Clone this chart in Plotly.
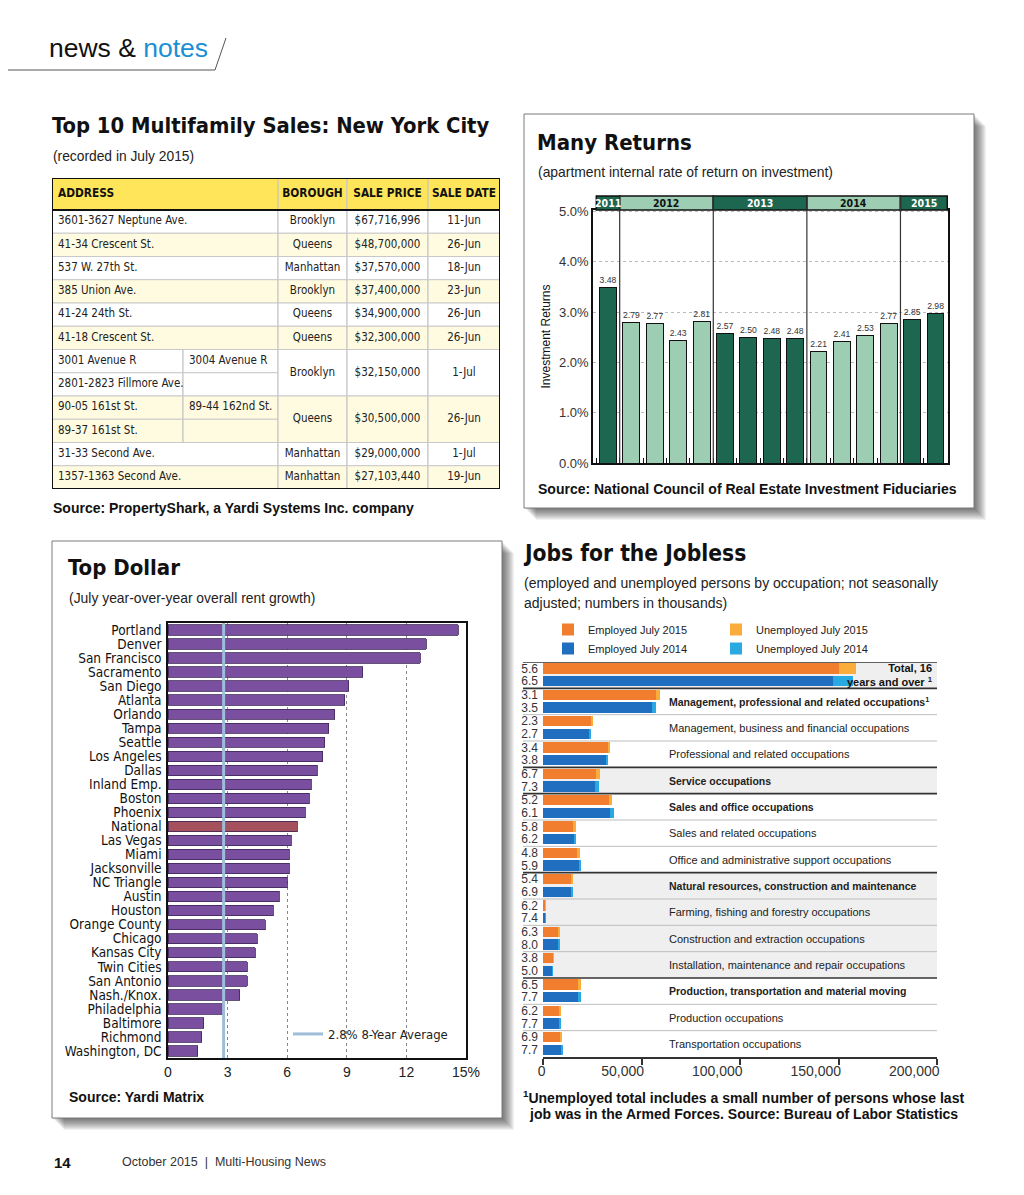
import plotly.graph_objects as go

PAGE_W, PAGE_H = 1024, 1195
BODY = 8                      # default page margin around the figure
W, H = PAGE_W - 2 * BODY, PAGE_H - 2 * BODY


def X(p):
    return (p - BODY) / W


def Y(p):
    return 1 - (p - BODY) / H


COND = "DejaVu Sans Condensed, Liberation Sans Narrow, Arial Narrow, sans-serif"
SANS = "Liberation Sans, Arial, Helvetica, sans-serif"

# ---------------- Data: Top 10 Multifamily Sales ----------------
tbl_header = ["ADDRESS", "BOROUGH", "SALE PRICE", "SALE DATE"]
tbl_address = [
    ["3601-3627 Neptune Ave."],
    ["41-34 Crescent St."],
    ["537 W. 27th St."],
    ["385 Union Ave."],
    ["41-24 24th St."],
    ["41-18 Crescent St."],
    ["3001 Avenue R", "3004 Avenue R", "2801-2823 Fillmore Ave."],
    ["90-05 161st St.", "89-44 162nd St.", "89-37 161st St."],
    ["31-33 Second Ave."],
    ["1357-1363 Second Ave."],
]
tbl_borough = ["Brooklyn", "Queens", "Manhattan", "Brooklyn", "Queens", "Queens",
               "Brooklyn", "Queens", "Manhattan", "Manhattan"]
tbl_price = ["$67,716,996", "$48,700,000", "$37,570,000", "$37,400,000", "$34,900,000",
             "$32,300,000", "$32,150,000", "$30,500,000", "$29,000,000", "$27,103,440"]
tbl_date = ["11-Jun", "26-Jun", "18-Jun", "23-Jun", "26-Jun", "26-Jun", "1-Jul",
            "26-Jun", "1-Jul", "19-Jun"]

# ---------------- Data: Many Returns ----------------
mr_quarters = ["4Q11", "1Q12", "2Q12", "3Q12", "4Q12", "1Q13", "2Q13", "3Q13", "4Q13",
               "1Q14", "2Q14", "3Q14", "4Q14", "1Q15", "2Q15"]
mr_values = [3.48, 2.79, 2.77, 2.43, 2.81, 2.57, 2.50, 2.48, 2.48, 2.21, 2.41, 2.53,
             2.77, 2.85, 2.98]
mr_years = ["2011", "2012", "2013", "2014", "2015"]
mr_ticks = [0, 1, 2, 3, 4, 5]

# ---------------- Data: Top Dollar ----------------
td_metros = ["Portland", "Denver", "San Francisco", "Sacramento", "San Diego", "Atlanta",
             "Orlando", "Tampa", "Seattle", "Los Angeles", "Dallas", "Inland Emp.",
             "Boston", "Phoenix", "National", "Las Vegas", "Miami", "Jacksonville",
             "NC Triangle", "Austin", "Houston", "Orange County", "Chicago",
             "Kansas City", "Twin Cities", "San Antonio", "Nash./Knox.", "Philadelphia",
             "Baltimore", "Richmond", "Washington, DC"]
td_growth = [14.6, 13.0, 12.7, 9.8, 9.1, 8.9, 8.4, 8.1, 7.9, 7.8, 7.5, 7.2, 7.1, 6.9,
             6.5, 6.2, 6.1, 6.1, 6.0, 5.6, 5.3, 4.9, 4.5, 4.4, 4.0, 4.0, 3.6, 2.8,
             1.8, 1.7, 1.5]
td_average = 2.8
td_ticks = [0, 3, 6, 9, 12, 15]
td_ticktext = ["0", "3", "6", "9", "12", "15%"]

# ---------------- Data: Jobs for the Jobless (thousands) ----------------
job_cats = ["Total, 16 years and over",
            "Management, professional and related occupations",
            "Management, business and financial occupations",
            "Professional and related occupations",
            "Service occupations",
            "Sales and office occupations",
            "Sales and related occupations",
            "Office and administrative support occupations",
            "Natural resources, construction and maintenance",
            "Farming, fishing and forestry occupations",
            "Construction and extraction occupations",
            "Installation, maintenance and repair occupations",
            "Production, transportation and material moving",
            "Production occupations",
            "Transportation occupations"]
job_major = [True, True, False, False, True, True, False, False, True, False, False,
             False, True, False, False]
job_emp_2015 = [150100, 57600, 24600, 33000, 27000, 33400, 15700, 17700, 14300, 1100,
                8000, 5100, 17900, 8600, 9100]
job_unemp_2015 = [8900, 1850, 580, 1160, 1940, 1830, 970, 890, 810, 73, 540, 200,
                  1250, 570, 680]
job_emp_2014 = [147300, 55400, 23700, 31900, 26500, 33800, 15700, 18200, 14300, 1150,
                8100, 4800, 17800, 8500, 9400]
job_unemp_2014 = [10200, 2000, 660, 1260, 2090, 2190, 1040, 1140, 1060, 92, 700, 260,
                  1490, 720, 780]
job_rate_2015 = ["5.6", "3.1", "2.3", "3.4", "6.7", "5.2", "5.8", "4.8", "5.4", "6.2",
                 "6.3", "3.8", "6.5", "6.2", "6.9"]
job_rate_2014 = ["6.5", "3.5", "2.7", "3.8", "7.3", "6.1", "6.2", "5.9", "6.9", "7.4",
                 "8.0", "5.0", "7.7", "7.7", "7.7"]
job_ticks = [0, 50000, 100000, 150000, 200000]

fig = go.Figure()
shapes = []
annotations = []


def ann(text, x, y, size, family=SANS, color="#1a1a1a", xanchor="left", **kw):
    d = dict(text=text, x=X(x), y=Y(y), xref="paper", yref="paper", showarrow=False,
             xanchor=xanchor, yanchor="middle", font=dict(size=size, family=family, color=color))
    d.update(kw)
    annotations.append(d)


def box_with_shadow(x0, y0, x1, y1):
    for k in range(12, 0, -1):
        shapes.append(dict(type="rect", xref="paper", yref="paper", layer="below",
                           x0=X(x0 + k), x1=X(x1 + k), y0=Y(y1 + k), y1=Y(y0 + k),
                           fillcolor="rgba(0,0,0,0.055)", line=dict(width=0)))
    shapes.append(dict(type="rect", xref="paper", yref="paper", layer="below",
                       x0=X(x0), x1=X(x1), y0=Y(y1), y1=Y(y0),
                       fillcolor="white", line=dict(color="#7a7a7a", width=1)))


# ---------------- Page header / footer ----------------
ann("news & <span style='color:#1b8fd3'>notes</span>", 47, 48, 26.5, family=SANS, color="#111")
shapes.append(dict(type="line", xref="paper", yref="paper", x0=X(0), x1=X(215), y0=Y(70), y1=Y(70),
                   line=dict(color="#555", width=1)))
shapes.append(dict(type="line", xref="paper", yref="paper", x0=X(215), x1=X(226), y0=Y(70), y1=Y(38),
                   line=dict(color="#555", width=1)))
ann("<b>14</b>", 52, 1162, 15, color="#111")
ann("October 2015  |  Multi-Housing News", 120, 1162, 12.5, color="#333")

# ---------------- Table ----------------
ann("<b>Top 10 Multifamily Sales: New York City</b>", 50, 125, 21.8, family=COND, color="#111")
ann("(recorded in July 2015)", 51, 156, 13.8, color="#222")
ann("<b>Source: PropertyShark, a Yardi Systems Inc. company</b>", 51, 508, 14, color="#111")

COLS = [0, 131, 226, 295, 376, 448]   # column edges in table units
HDR = 32 / 23.25                       # header height in row units
GRID = dict(color="#c9c9c9", width=1.2)
lt_x, lt_y, lt_t = [], [], []
ct_x, ct_y, ct_t = [], [], []


def cell(x0, x1, y0, y1, fill):
    shapes.append(dict(type="rect", xref="x", yref="y", layer="below", x0=x0, x1=x1,
                       y0=y0, y1=y1, fillcolor=fill, line=GRID))


for j, h in enumerate(tbl_header):
    x0 = COLS[0] if j == 0 else COLS[j + 1]
    x1 = COLS[j + 2]
    cell(x0, x1, -HDR, 0, "#ffe55a")
r = 0
for i, addr in enumerate(tbl_address):
    fill = "#ffffff" if i % 2 == 0 else "#fffbe1"
    if len(addr) == 1:
        n = 1
        parts = [(COLS[0], COLS[2], r, r + 1, addr[0])]
    else:
        n = 2
        lines = addr + [""]
        parts = [(COLS[0], COLS[1], r, r + 1, lines[0]), (COLS[1], COLS[2], r, r + 1, lines[1]),
                 (COLS[0], COLS[1], r + 1, r + 2, lines[2]), (COLS[1], COLS[2], r + 1, r + 2, lines[3])]
    for (x0, x1, y0, y1, t) in parts:
        cell(x0, x1, y0, y1, fill)
        if t:
            lt_x.append(x0 + 6)
            lt_y.append((y0 + y1) / 2)
            lt_t.append(t)
    for j, val in enumerate([tbl_borough[i], tbl_price[i], tbl_date[i]]):
        x0, x1 = COLS[2 + j], COLS[3 + j]
        cell(x0, x1, r, r + n, fill)
        ct_x.append((x0 + x1) / 2)
        ct_y.append(r + n / 2)
        ct_t.append(val)
    r += n
NROWS = r
shapes.append(dict(type="line", xref="x", yref="y", x0=COLS[0], x1=COLS[-1], y0=0, y1=0,
                   line=dict(color="#111", width=2)))
shapes.append(dict(type="rect", xref="x", yref="y", x0=COLS[0], x1=COLS[-1], y0=-HDR, y1=NROWS,
                   line=dict(color="#111", width=2)))

TBL_FONT = dict(family=COND, size=11.5, color="#222")
fig.add_trace(go.Scatter(x=lt_x, y=lt_y, text=lt_t, mode="text", textposition="middle right",
                         textfont=TBL_FONT, xaxis="x", yaxis="y",
                         hoverinfo="skip", showlegend=False, cliponaxis=False))
fig.add_trace(go.Scatter(x=ct_x, y=ct_y, text=ct_t, mode="text", textposition="middle center",
                         textfont=TBL_FONT, xaxis="x", yaxis="y",
                         hoverinfo="skip", showlegend=False, cliponaxis=False))
hdr_x = [COLS[0] + 6] + [(COLS[j + 1] + COLS[j + 2]) / 2 for j in range(1, 4)]
HDR_FONT = dict(family=COND, size=11.8, color="#111")
fig.add_trace(go.Scatter(x=hdr_x[:1], y=[-HDR / 2], text=["<b>" + tbl_header[0] + "</b>"],
                         mode="text", textposition="middle right", textfont=HDR_FONT,
                         xaxis="x", yaxis="y", hoverinfo="skip", showlegend=False, cliponaxis=False))
fig.add_trace(go.Scatter(x=hdr_x[1:], y=[-HDR / 2] * 3, text=["<b>%s</b>" % h for h in tbl_header[1:]],
                         mode="text", textposition="middle center", textfont=HDR_FONT,
                         xaxis="x", yaxis="y", hoverinfo="skip", showlegend=False, cliponaxis=False))

# ---------------- Many Returns ----------------
box_with_shadow(524, 114, 974, 508)
ann("<b>Many Returns</b>", 535, 142, 22, family=COND, color="#111")
ann("(apartment internal rate of return on investment)", 536, 172, 13.9, color="#222")
ann("<b>Source: National Council of Real Estate Investment Fiduciaries</b>", 536, 489, 14, color="#111")

DARK, LIGHT = "#1d664f", "#9dcdb2"
bar_year = ["20" + q[-2:] for q in mr_quarters]
year_col = {y: (DARK if k % 2 == 0 else LIGHT) for k, y in enumerate(mr_years)}
fig.add_trace(go.Bar(x=mr_quarters, y=mr_values, xaxis="x2", yaxis="y2",
                     marker=dict(color=[year_col[y] for y in bar_year], line=dict(color="#111", width=1)),
                     width=0.72, text=["%.2f" % v for v in mr_values], textposition="outside",
                     textfont=dict(family=SANS, size=11.5, color="#333"), cliponaxis=False,
                     showlegend=False, hoverinfo="skip"))
for k, yr in enumerate(mr_years):
    idx = [i for i, b in enumerate(bar_year) if b == yr]
    x0, x1 = min(idx) - 0.5, max(idx) + 0.5
    shapes.append(dict(type="rect", xref="x2", yref="paper", x0=x0, x1=x1, y0=Y(210), y1=Y(196),
                       fillcolor=year_col[yr], line=dict(color="#111", width=1.5)))
    annotations.append(dict(text="<b>%s</b>" % yr, x=(x0 + x1) / 2, y=Y(203), xref="x2", yref="paper",
                            showarrow=False, yanchor="middle",
                            font=dict(family=COND, size=10.5,
                                      color="white" if year_col[yr] == DARK else "#111")))
    if k > 0:
        shapes.append(dict(type="line", xref="x2", yref="paper", x0=x0, x1=x0, y0=Y(463), y1=Y(196),
                           line=dict(color="#333", width=1.2)))

# ---------------- Top Dollar ----------------
box_with_shadow(52, 541, 502, 1118)
ann("<b>Top Dollar</b>", 66, 567, 22, family=COND, color="#111")
ann("(July year-over-year overall rent growth)", 67, 598, 13.9, color="#222")
ann("<b>Source: Yardi Matrix</b>", 67, 1097, 14, color="#111")

fig.add_trace(go.Bar(y=td_metros, x=td_growth, orientation="h", xaxis="x3", yaxis="y3",
                     marker=dict(color=["#a5505d" if m == "National" else "#7b4fa0" for m in td_metros],
                                 line=dict(color="#3d2757", width=0.8)),
                     width=0.74, showlegend=False, hoverinfo="skip"))
shapes.append(dict(type="line", xref="x3", yref="y3 domain", x0=td_average, x1=td_average, y0=0, y1=1,
                   line=dict(color="#9dbdd9", width=3), showlegend=True, legend="legend",
                   name="%.1f%% 8-Year Average" % td_average))

# ---------------- Jobs for the Jobless ----------------
ann("<b>Jobs for the Jobless</b>", 521, 553, 22.6, family=COND, color="#111")
ann("(employed and unemployed persons by occupation; not seasonally", 522, 583, 14, color="#222")
ann("adjusted; numbers in thousands)", 522, 603, 14, color="#222")
ann("<b><sup>1</sup>Unemployed total includes a small number of persons whose last</b>", 521, 1097, 14, color="#111")
ann("<b>job was in the Armed Forces. Source: Bureau of Labor Statistics</b>", 527, 1114, 14, color="#111")

n_jobs = len(job_cats)
y15 = [2 * g + 0.5 for g in range(n_jobs)]
y14 = [2 * g + 1.46 for g in range(n_jobs)]
BW = 0.78
fig.add_trace(go.Bar(y=y15, x=job_emp_2015, orientation="h", xaxis="x4", yaxis="y4", width=BW,
                     marker=dict(color="#f07e2e", line=dict(width=0)), name="Employed July 2015",
                     legend="legend2", hoverinfo="skip"))
fig.add_trace(go.Bar(y=y15, x=job_unemp_2015, orientation="h", xaxis="x4", yaxis="y4", width=BW,
                     marker=dict(color="#fbad3b", line=dict(width=0)), name="Unemployed July 2015",
                     legend="legend3", hoverinfo="skip"))
fig.add_trace(go.Bar(y=y14, x=job_emp_2014, orientation="h", xaxis="x4", yaxis="y4", width=BW,
                     marker=dict(color="#1f6ebf", line=dict(width=0)), name="Employed July 2014",
                     legend="legend2", hoverinfo="skip"))
fig.add_trace(go.Bar(y=y14, x=job_unemp_2014, orientation="h", xaxis="x4", yaxis="y4", width=BW,
                     marker=dict(color="#29a9e1", line=dict(width=0)), name="Unemployed July 2014",
                     legend="legend3", hoverinfo="skip"))

gray_groups = [0, 4, 8, 9, 10, 11]
for g in gray_groups:
    shapes.append(dict(type="rect", xref="paper", yref="y4", layer="below", x0=X(543), x1=X(937),
                       y0=2 * g, y1=2 * g + 2, fillcolor="#efefef", line=dict(width=0)))
for g in range(n_jobs):
    dark = job_major[g]
    shapes.append(dict(type="line", xref="paper", yref="y4", x0=X(523), x1=X(937), y0=2 * g, y1=2 * g,
                       line=dict(color="#333" if dark else "#bdbdbd", width=1.6 if dark else 1)))
for g, cat in enumerate(job_cats):
    if g == 0:
        annotations.append(dict(text="<b>Total, 16<br>years and over <sup>1</sup></b>", x=X(935), y=1,
                                xref="paper", yref="y4", showarrow=False, xanchor="right", yanchor="middle",
                                align="right", font=dict(family=SANS, size=11, color="#111")))
        continue
    t = cat
    if g == 1:
        t = cat + "<sup>1</sup>"
    if job_major[g]:
        t = "<b>%s</b>" % t
    annotations.append(dict(text=t, x=X(667), y=2 * g + 1, xref="paper", yref="y4", showarrow=False,
                            xanchor="left", yanchor="middle",
                            font=dict(family=SANS, size=10.5 if job_major[g] else 11, color="#222")))

ticks4 = []
text4 = []
for g in range(n_jobs):
    ticks4 += [y15[g], y14[g]]
    text4 += [job_rate_2015[g], job_rate_2014[g]]

fig.update_layout(
    width=W, height=H, margin=dict(l=0, r=0, t=0, b=0, pad=0, autoexpand=False),
    paper_bgcolor="white", plot_bgcolor="rgba(0,0,0,0)",
    barmode="stack", shapes=shapes, annotations=annotations,
    xaxis=dict(domain=[X(52), X(500)], range=[COLS[0], COLS[-1]], visible=False, fixedrange=True),
    yaxis=dict(domain=[Y(489), Y(178)], range=[NROWS, -HDR], visible=False, fixedrange=True),
    xaxis2=dict(domain=[X(593), X(948)], anchor="y2", type="category", showticklabels=False,
                ticks="inside", tickson="boundaries", ticklen=5, tickcolor="#111", tickwidth=1,
                showline=True, linecolor="#111", linewidth=1.5, mirror=True, showgrid=False),
    yaxis2=dict(domain=[Y(463), Y(210)], anchor="x2", range=[0, 5.03], tickvals=mr_ticks,
                ticktext=["%.1f%%" % v for v in mr_ticks], showgrid=True, gridcolor="#bbbbbb",
                griddash="dot", gridwidth=1, showline=True, mirror=True, linecolor="#111", linewidth=1.5,
                zeroline=False, ticks="", tickfont=dict(family=SANS, size=13, color="#333"),
                title=dict(text="Investment Returns", font=dict(family=SANS, size=12, color="#111"), standoff=6)),
    xaxis3=dict(domain=[X(168), X(466)], anchor="y3", range=[0, 15], tickvals=td_ticks, ticktext=td_ticktext,
                showgrid=True, gridcolor="#888", griddash="dot", gridwidth=1, showline=True, mirror=True,
                linecolor="#111", linewidth=1.5, zeroline=False, ticks="",
                tickfont=dict(family=SANS, size=14, color="#222")),
    yaxis3=dict(domain=[Y(1058), Y(623)], anchor="x3", autorange="reversed", showline=True, mirror=True,
                linecolor="#111", linewidth=1.5, ticks="", showgrid=False, tickmode="array",
                tickvals=td_metros, ticktext=td_metros, ticklabelstandoff=2,
                tickfont=dict(family=COND, size=13.5, color="#111")),
    xaxis4=dict(domain=[X(543), X(937)], anchor="y4", range=[0, 200000], tickvals=job_ticks, tickformat=",",
                ticks="outside", ticklen=6, tickwidth=1.5, tickcolor="#333", showline=True,
                linecolor="#333", linewidth=1.5, showgrid=False, zeroline=False,
                ticklabelposition="outside left", ticklabelshift=4,
                tickfont=dict(family=SANS, size=14, color="#333")),
    yaxis4=dict(domain=[Y(1057), Y(662)], anchor="x4", range=[2 * n_jobs, 0], tickvals=ticks4, ticktext=text4,
                showgrid=False, zeroline=False, ticks="", showline=False, ticklabelstandoff=4,
                tickfont=dict(family=SANS, size=12, color="#333")),
    legend=dict(x=X(288), y=Y(1034), xanchor="left", yanchor="middle", bgcolor="rgba(0,0,0,0)",
                font=dict(family=COND, size=13, color="#222")),
    legend2=dict(x=X(548), y=Y(639), xanchor="left", yanchor="middle", bgcolor="rgba(0,0,0,0)",
                 traceorder="normal", font=dict(family=SANS, size=11, color="#222"), tracegroupgap=0),
    legend3=dict(x=X(716), y=Y(639), xanchor="left", yanchor="middle", bgcolor="rgba(0,0,0,0)",
                 traceorder="normal", font=dict(family=SANS, size=11, color="#222"), tracegroupgap=0),
)

fig.write_html("out.html")
